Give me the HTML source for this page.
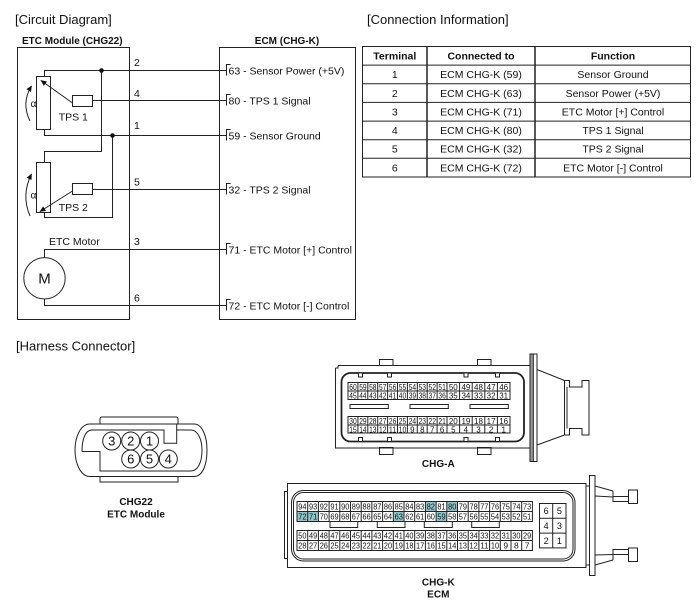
<!DOCTYPE html>
<html><head><meta charset="utf-8"><style>
html,body{margin:0;padding:0;background:#fff;}
svg{display:block;font-family:"Liberation Sans",Arial,sans-serif;}
</style></head><body>
<svg width="700" height="608" viewBox="0 0 700 608" xmlns="http://www.w3.org/2000/svg">
<defs>
<marker id="ah" viewBox="0 0 10 10" refX="9" refY="5" markerWidth="7" markerHeight="6" orient="auto" markerUnits="userSpaceOnUse"><path d="M0,0.5 L10,5 L0,9.5 Z" fill="#111"/></marker>
</defs>
<rect width="700" height="608" fill="#fff"/>

<!-- Titles -->
<g font-size="13" fill="#111">
<text x="15" y="24">[Circuit Diagram]</text>
<text x="367" y="24">[Connection Information]</text>
<text x="16" y="350.5">[Harness Connector]</text>
</g>
<g font-size="10" font-weight="bold" fill="#111">
<text x="22" y="44">ETC Module (CHG22)</text>
<text x="287" y="44" text-anchor="middle">ECM (CHG-K)</text>
</g>

<!-- Boxes -->
<g fill="none" stroke="#222" stroke-width="1">
<rect x="17.5" y="47.5" width="112" height="272"/>
<rect x="219.5" y="47.5" width="136" height="272"/>
<!-- pots -->
<rect x="36.5" y="76.5" width="14" height="53"/>
<rect x="36.5" y="162.5" width="14" height="50"/>
<!-- TPS boxes -->
<rect x="72.5" y="95.5" width="20" height="11"/>
<rect x="72.5" y="183.5" width="20" height="11"/>
<!-- wires -->
<path d="M44.5,76.5 V70.5 H226.5"/>
<path d="M101.5,70.5 V151.5 H44.5 V162.5"/>
<path d="M44.5,129.5 V135.5 H226.5"/>
<path d="M112.5,135.5 V217.5 H44.5 V212.5"/>
<path d="M92.5,100.5 H226.5"/>
<path d="M92.5,189.5 H226.5"/>
<path d="M44.5,257.5 V249.5 H226.5"/>
<path d="M44.5,299 V305.5 H226.5"/>
<circle cx="44.5" cy="278.3" r="20.7"/>
<!-- pin brackets -->
<path d="M230.5,64.5 H226.5 V75.5"/>
<path d="M230.5,94.5 H226.5 V105.5"/>
<path d="M230.5,129.5 H226.5 V140.5"/>
<path d="M230.5,183.5 H226.5 V194.5"/>
<path d="M230.5,243.5 H226.5 V254.5"/>
<path d="M230.5,299.5 H226.5 V310.5"/>
<!-- arrows -->
<path d="M72.5,103 L41,80.5" marker-end="url(#ah)"/>
<path d="M72.5,191 L40,211.5" marker-end="url(#ah)"/>
<path d="M30,121 Q21,103 31.5,86" marker-end="url(#ah)"/>
<path d="M30,216 Q21,195 31.5,174" marker-end="url(#ah)"/>
</g>
<circle cx="101.5" cy="70.5" r="2.3" fill="#111"/>
<circle cx="112.5" cy="135.5" r="2.3" fill="#111"/>

<g font-size="10.5" fill="#111">
<text x="134" y="66">2</text>
<text x="134" y="97">4</text>
<text x="134" y="129">1</text>
<text x="134" y="185.5">5</text>
<text x="134" y="245">3</text>
<text x="134" y="301.5">6</text>
<text x="73.3" y="120.5" text-anchor="middle">TPS 1</text>
<text x="73.3" y="211" text-anchor="middle">TPS 2</text>
<text x="49" y="245">ETC Motor</text>
<text x="33.5" y="107" text-anchor="middle" font-size="10">α</text>
<text x="33.5" y="198.5" text-anchor="middle" font-size="10">α</text>
<text x="228.5" y="74.3">63 - Sensor Power (+5V)</text>
<text x="228.5" y="104.3">80 - TPS 1 Signal</text>
<text x="228.5" y="139.3">59 - Sensor Ground</text>
<text x="228.5" y="193.3">32 - TPS 2 Signal</text>
<text x="228.5" y="253.3">71 - ETC Motor [+] Control</text>
<text x="228.5" y="309.3">72 - ETC Motor [-] Control</text>
</g>
<text x="44.5" y="283.5" text-anchor="middle" font-size="15" fill="#111">M</text>

<!-- Table -->
<g fill="none" stroke="#222" stroke-width="1">
<rect x="362.5" y="46.5" width="328" height="130.5"/>
<path d="M362.5,65.1 H690.5 M362.5,83.8 H690.5 M362.5,102.4 H690.5 M362.5,121.1 H690.5 M362.5,139.7 H690.5 M362.5,158.3 H690.5"/>
<path d="M427,46.5 V177 M535,46.5 V177" stroke-width="1.5"/>
</g>
<g font-size="10.5" fill="#111" text-anchor="middle">
<g font-weight="bold">
<text x="394.8" y="59.5">Terminal</text>
<text x="481" y="59.5">Connected to</text>
<text x="613" y="59.5">Function</text>
</g>
<text x="394.8" y="78.2">1</text><text x="481" y="78.2">ECM CHG-K (59)</text><text x="613" y="78.2">Sensor Ground</text>
<text x="394.8" y="96.8">2</text><text x="481" y="96.8">ECM CHG-K (63)</text><text x="613" y="96.8">Sensor Power (+5V)</text>
<text x="394.8" y="115.4">3</text><text x="481" y="115.4">ECM CHG-K (71)</text><text x="613" y="115.4">ETC Motor [+] Control</text>
<text x="394.8" y="134.1">4</text><text x="481" y="134.1">ECM CHG-K (80)</text><text x="613" y="134.1">TPS 1 Signal</text>
<text x="394.8" y="152.7">5</text><text x="481" y="152.7">ECM CHG-K (32)</text><text x="613" y="152.7">TPS 2 Signal</text>
<text x="394.8" y="171.4">6</text><text x="481" y="171.4">ECM CHG-K (72)</text><text x="613" y="171.4">ETC Motor [-] Control</text>
</g>

<!-- CHG22 connector -->
<g fill="none" stroke="#222" stroke-width="1">
<path d="M100,424 V419 Q100,417 102,417 H176 Q178,417 178,419 V424"/>
<path d="M90,424 H194 C203,424 207,438 207,450 C207,464 203,476.5 194,476.5 H90 C80,476.5 75,462 75,450 C75,438 80,424 90,424 Z"/>
<path d="M100,476.5 V482 H178 V476.5"/>
<path d="M82,451.5 C82,440 85,430 92,430 H164 V443.3 H176.7 V424 M176.7,430 H191 C198,430 202,440 202,450 C202,462 198,471 191,471 H100 V451.5 H82"/>
<circle cx="111.7" cy="441" r="9"/>
<circle cx="130.7" cy="441" r="9"/>
<circle cx="149.5" cy="441" r="9"/>
<circle cx="130.7" cy="459" r="9"/>
<circle cx="149.5" cy="459" r="9"/>
<circle cx="168.3" cy="459" r="9"/>
</g>
<g font-size="13" fill="#111" text-anchor="middle">
<text x="111.7" y="445.7">3</text>
<text x="130.7" y="445.7">2</text>
<text x="149.5" y="445.7">1</text>
<text x="130.7" y="463.7">6</text>
<text x="149.5" y="463.7">5</text>
<text x="168.3" y="463.7">4</text>
</g>
<g font-size="10" font-weight="bold" fill="#111" text-anchor="middle">
<text x="136" y="505">CHG22</text>
<text x="136" y="517.5">ETC Module</text>
<text x="438.3" y="467">CHG-A</text>
<text x="438.3" y="585.5">CHG-K</text>
<text x="438.3" y="597.5">ECM</text>
</g>

<!-- CHG-A connector -->
<g fill="none" stroke="#222" stroke-width="1">
<rect x="379.5" y="359.5" width="13.5" height="6" fill="#fff"/>
<rect x="477.5" y="359.5" width="13.5" height="6" fill="#fff"/>
<rect x="379.5" y="447.5" width="13.5" height="7" fill="#fff"/>
<rect x="477.5" y="447.5" width="13.5" height="7" fill="#fff"/>
<path d="M338,365.5 H530 M335.5,368 V448 H530 M335.5,368 H338 V365.5"/>
<rect x="341.5" y="373" width="182.5" height="68.5" rx="9" stroke-width="1.8"/>
<rect x="358.5" y="373" width="4" height="4" fill="#fff"/>
<rect x="387.5" y="373" width="4" height="4" fill="#fff"/>
<rect x="464" y="373" width="4" height="4" fill="#fff"/>
<rect x="495.5" y="373" width="4" height="4" fill="#fff"/>
<rect x="358.5" y="437.5" width="4" height="4" fill="#fff"/>
<rect x="387.5" y="437.5" width="4" height="4" fill="#fff"/>
<rect x="464" y="437.5" width="4" height="4" fill="#fff"/>
<rect x="495.5" y="437.5" width="4" height="4" fill="#fff"/>
<rect x="530" y="354" width="7" height="107.5"/>
<rect x="530" y="354" width="3.3" height="107.5" fill="#999"/>
<path d="M537,369.5 L564.5,380.5 M537,445 L564.5,435"/>
<path d="M564.5,380.5 H569.5 V387 H582 V380.5 H589 V435 H582 V428.5 H569.5 V435 H564.5 Z M567,387 V428.5"/>
<rect x="350" y="404.5" width="38.3" height="4"/>
<rect x="410" y="404.5" width="38.3" height="4"/>
<rect x="470" y="404.5" width="38.3" height="4"/>
<rect x="348" y="382.5" width="162" height="17"/>
<rect x="348" y="416.5" width="162" height="16.5"/>
<path d="M348,391 H510 M348,425 H510"/>
<path d="M357.9,382.5V399.5M367.8,382.5V399.5M377.7,382.5V399.5M387.6,382.5V399.5M397.5,382.5V399.5M407.4,382.5V399.5M417.3,382.5V399.5M427.2,382.5V399.5M437.1,382.5V399.5M447,382.5V399.5M459.6,382.5V399.5M472.2,382.5V399.5M484.8,382.5V399.5M497.4,382.5V399.5"/>
<path d="M357.9,416.5V433M367.8,416.5V433M377.7,416.5V433M387.6,416.5V433M397.5,416.5V433M407.4,416.5V433M417.3,416.5V433M427.2,416.5V433M437.1,416.5V433M447,416.5V433M459.6,416.5V433M472.2,416.5V433M484.8,416.5V433M497.4,416.5V433"/>
</g>
<g font-size="8" fill="#111" text-anchor="middle">
<text x="353" y="389.8" textLength="7.4" lengthAdjust="spacingAndGlyphs">60</text>
<text x="362.9" y="389.8" textLength="7.4" lengthAdjust="spacingAndGlyphs">59</text>
<text x="372.8" y="389.8" textLength="7.4" lengthAdjust="spacingAndGlyphs">58</text>
<text x="382.7" y="389.8" textLength="7.4" lengthAdjust="spacingAndGlyphs">57</text>
<text x="392.6" y="389.8" textLength="7.4" lengthAdjust="spacingAndGlyphs">56</text>
<text x="402.5" y="389.8" textLength="7.4" lengthAdjust="spacingAndGlyphs">55</text>
<text x="412.4" y="389.8" textLength="7.4" lengthAdjust="spacingAndGlyphs">54</text>
<text x="422.3" y="389.8" textLength="7.4" lengthAdjust="spacingAndGlyphs">53</text>
<text x="432.2" y="389.8" textLength="7.4" lengthAdjust="spacingAndGlyphs">52</text>
<text x="442.1" y="389.8" textLength="7.4" lengthAdjust="spacingAndGlyphs">51</text>
<text x="453.3" y="389.8">50</text>
<text x="465.9" y="389.8">49</text>
<text x="478.5" y="389.8">48</text>
<text x="491.1" y="389.8">47</text>
<text x="503.7" y="389.8">46</text>
<text x="353" y="398.3" textLength="7.4" lengthAdjust="spacingAndGlyphs">45</text>
<text x="362.9" y="398.3" textLength="7.4" lengthAdjust="spacingAndGlyphs">44</text>
<text x="372.8" y="398.3" textLength="7.4" lengthAdjust="spacingAndGlyphs">43</text>
<text x="382.7" y="398.3" textLength="7.4" lengthAdjust="spacingAndGlyphs">42</text>
<text x="392.6" y="398.3" textLength="7.4" lengthAdjust="spacingAndGlyphs">41</text>
<text x="402.5" y="398.3" textLength="7.4" lengthAdjust="spacingAndGlyphs">40</text>
<text x="412.4" y="398.3" textLength="7.4" lengthAdjust="spacingAndGlyphs">39</text>
<text x="422.3" y="398.3" textLength="7.4" lengthAdjust="spacingAndGlyphs">38</text>
<text x="432.2" y="398.3" textLength="7.4" lengthAdjust="spacingAndGlyphs">37</text>
<text x="442.1" y="398.3" textLength="7.4" lengthAdjust="spacingAndGlyphs">36</text>
<text x="453.3" y="398.3">35</text>
<text x="465.9" y="398.3">34</text>
<text x="478.5" y="398.3">33</text>
<text x="491.1" y="398.3">32</text>
<text x="503.7" y="398.3">31</text>
<text x="353" y="423.8" textLength="7.4" lengthAdjust="spacingAndGlyphs">30</text>
<text x="362.9" y="423.8" textLength="7.4" lengthAdjust="spacingAndGlyphs">29</text>
<text x="372.8" y="423.8" textLength="7.4" lengthAdjust="spacingAndGlyphs">28</text>
<text x="382.7" y="423.8" textLength="7.4" lengthAdjust="spacingAndGlyphs">27</text>
<text x="392.6" y="423.8" textLength="7.4" lengthAdjust="spacingAndGlyphs">26</text>
<text x="402.5" y="423.8" textLength="7.4" lengthAdjust="spacingAndGlyphs">25</text>
<text x="412.4" y="423.8" textLength="7.4" lengthAdjust="spacingAndGlyphs">24</text>
<text x="422.3" y="423.8" textLength="7.4" lengthAdjust="spacingAndGlyphs">23</text>
<text x="432.2" y="423.8" textLength="7.4" lengthAdjust="spacingAndGlyphs">22</text>
<text x="442.1" y="423.8" textLength="7.4" lengthAdjust="spacingAndGlyphs">21</text>
<text x="453.3" y="423.8">20</text>
<text x="465.9" y="423.8">19</text>
<text x="478.5" y="423.8">18</text>
<text x="491.1" y="423.8">17</text>
<text x="503.7" y="423.8">16</text>
<text x="353" y="432.3" textLength="7.4" lengthAdjust="spacingAndGlyphs">15</text>
<text x="362.9" y="432.3" textLength="7.4" lengthAdjust="spacingAndGlyphs">14</text>
<text x="372.8" y="432.3" textLength="7.4" lengthAdjust="spacingAndGlyphs">13</text>
<text x="382.7" y="432.3" textLength="7.4" lengthAdjust="spacingAndGlyphs">12</text>
<text x="392.6" y="432.3" textLength="7.4" lengthAdjust="spacingAndGlyphs">11</text>
<text x="402.5" y="432.3" textLength="7.4" lengthAdjust="spacingAndGlyphs">10</text>
<text x="412.4" y="432.3">9</text>
<text x="422.3" y="432.3">8</text>
<text x="432.2" y="432.3">7</text>
<text x="442.1" y="432.3">6</text>
<text x="453.3" y="432.3">5</text>
<text x="465.9" y="432.3">4</text>
<text x="478.5" y="432.3">3</text>
<text x="491.1" y="432.3">2</text>
<text x="503.7" y="432.3">1</text>
</g>

<!-- CHG-K connector -->
<g fill="none" stroke="#222" stroke-width="1">
<rect x="287.5" y="483.5" width="298.5" height="84"/>
<path d="M287.5,491.5 H284.5 V558.5 H287.5"/>
<rect x="291.5" y="490.5" width="283.5" height="70.5" rx="12"/>
<rect x="293.5" y="492.5" width="279.5" height="66.5" rx="10"/>
<path d="M586,486 H589.5 M586,565 H589.5"/>
<rect x="589.5" y="475.5" width="5.5" height="100"/>
<path d="M595,486 L613,491 M595,496 L613,497 M595,565 L613,560 M595,555 L613,554.5"/>
<rect x="613" y="496.5" width="15.5" height="5"/>
<rect x="628.5" y="490" width="9" height="13.5"/>
<path d="M613,491 V496.5 M613,554.5 V560"/>
<rect x="613" y="549.5" width="15.5" height="5"/>
<rect x="628.5" y="548" width="9" height="13.5"/>
</g>
<g fill="#8ec6cb">
<rect x="425.4" y="501.5" width="10.7" height="10"/>
<rect x="446.8" y="501.5" width="10.7" height="10"/>
<rect x="297" y="511.5" width="21.4" height="10"/>
<rect x="393.3" y="511.5" width="10.7" height="10"/>
<rect x="436.1" y="511.5" width="10.7" height="10"/>
</g>
<g fill="none" stroke="#222" stroke-width="1">
<rect x="297" y="501.5" width="235.4" height="20"/>
<rect x="297" y="530.5" width="235.4" height="20"/>
<path d="M297,511.5 H532.4 M297,540.5 H532.4"/>
<path d="M307.7,501.5V521.5M318.4,501.5V521.5M329.1,501.5V521.5M339.8,501.5V521.5M350.5,501.5V521.5M361.2,501.5V521.5M371.9,501.5V521.5M382.6,501.5V521.5M393.3,501.5V521.5M404,501.5V521.5M414.7,501.5V521.5M425.4,501.5V521.5M436.1,501.5V521.5M446.8,501.5V521.5M457.5,501.5V521.5M468.2,501.5V521.5M478.9,501.5V521.5M489.6,501.5V521.5M500.3,501.5V521.5M511,501.5V521.5M521.7,501.5V521.5"/>
<path d="M307.7,530.5V550.5M318.4,530.5V550.5M329.1,530.5V550.5M339.8,530.5V550.5M350.5,530.5V550.5M361.2,530.5V550.5M371.9,530.5V550.5M382.6,530.5V550.5M393.3,530.5V550.5M404,530.5V550.5M414.7,530.5V550.5M425.4,530.5V550.5M436.1,530.5V550.5M446.8,530.5V550.5M457.5,530.5V550.5M468.2,530.5V550.5M478.9,530.5V550.5M489.6,530.5V550.5M500.3,530.5V550.5M511,530.5V550.5M521.7,530.5V550.5"/>
<rect x="330" y="521.5" width="27.7" height="6" fill="#fff"/>
<rect x="377.3" y="521.5" width="27.7" height="6" fill="#fff"/>
<rect x="424.3" y="521.5" width="28" height="6" fill="#fff"/>
<rect x="471.7" y="521.5" width="27.6" height="6" fill="#fff"/>
<rect x="539.5" y="503.5" width="26.5" height="44.4"/>
<path d="M552.7,503.5 V547.9 M539.5,518.3 H566 M539.5,533.1 H566"/>
</g>
<g font-size="8.5" fill="#111" text-anchor="middle">
<text x="302.4" y="509.5" textLength="8.2" lengthAdjust="spacingAndGlyphs">94</text>
<text x="313.1" y="509.5" textLength="8.2" lengthAdjust="spacingAndGlyphs">93</text>
<text x="323.8" y="509.5" textLength="8.2" lengthAdjust="spacingAndGlyphs">92</text>
<text x="334.5" y="509.5" textLength="8.2" lengthAdjust="spacingAndGlyphs">91</text>
<text x="345.2" y="509.5" textLength="8.2" lengthAdjust="spacingAndGlyphs">90</text>
<text x="355.9" y="509.5" textLength="8.2" lengthAdjust="spacingAndGlyphs">89</text>
<text x="366.6" y="509.5" textLength="8.2" lengthAdjust="spacingAndGlyphs">88</text>
<text x="377.3" y="509.5" textLength="8.2" lengthAdjust="spacingAndGlyphs">87</text>
<text x="388" y="509.5" textLength="8.2" lengthAdjust="spacingAndGlyphs">86</text>
<text x="398.7" y="509.5" textLength="8.2" lengthAdjust="spacingAndGlyphs">85</text>
<text x="409.4" y="509.5" textLength="8.2" lengthAdjust="spacingAndGlyphs">84</text>
<text x="420.1" y="509.5" textLength="8.2" lengthAdjust="spacingAndGlyphs">83</text>
<text x="430.8" y="509.5" textLength="8.2" lengthAdjust="spacingAndGlyphs">82</text>
<text x="441.5" y="509.5" textLength="8.2" lengthAdjust="spacingAndGlyphs">81</text>
<text x="452.2" y="509.5" textLength="8.2" lengthAdjust="spacingAndGlyphs">80</text>
<text x="462.9" y="509.5" textLength="8.2" lengthAdjust="spacingAndGlyphs">79</text>
<text x="473.6" y="509.5" textLength="8.2" lengthAdjust="spacingAndGlyphs">78</text>
<text x="484.3" y="509.5" textLength="8.2" lengthAdjust="spacingAndGlyphs">77</text>
<text x="495" y="509.5" textLength="8.2" lengthAdjust="spacingAndGlyphs">76</text>
<text x="505.7" y="509.5" textLength="8.2" lengthAdjust="spacingAndGlyphs">75</text>
<text x="516.4" y="509.5" textLength="8.2" lengthAdjust="spacingAndGlyphs">74</text>
<text x="527.1" y="509.5" textLength="8.2" lengthAdjust="spacingAndGlyphs">73</text>
<text x="302.4" y="519.5" textLength="8.2" lengthAdjust="spacingAndGlyphs">72</text>
<text x="313.1" y="519.5" textLength="8.2" lengthAdjust="spacingAndGlyphs">71</text>
<text x="323.8" y="519.5" textLength="8.2" lengthAdjust="spacingAndGlyphs">70</text>
<text x="334.5" y="519.5" textLength="8.2" lengthAdjust="spacingAndGlyphs">69</text>
<text x="345.2" y="519.5" textLength="8.2" lengthAdjust="spacingAndGlyphs">68</text>
<text x="355.9" y="519.5" textLength="8.2" lengthAdjust="spacingAndGlyphs">67</text>
<text x="366.6" y="519.5" textLength="8.2" lengthAdjust="spacingAndGlyphs">66</text>
<text x="377.3" y="519.5" textLength="8.2" lengthAdjust="spacingAndGlyphs">65</text>
<text x="388" y="519.5" textLength="8.2" lengthAdjust="spacingAndGlyphs">64</text>
<text x="398.7" y="519.5" textLength="8.2" lengthAdjust="spacingAndGlyphs">63</text>
<text x="409.4" y="519.5" textLength="8.2" lengthAdjust="spacingAndGlyphs">62</text>
<text x="420.1" y="519.5" textLength="8.2" lengthAdjust="spacingAndGlyphs">61</text>
<text x="430.8" y="519.5" textLength="8.2" lengthAdjust="spacingAndGlyphs">60</text>
<text x="441.5" y="519.5" textLength="8.2" lengthAdjust="spacingAndGlyphs">59</text>
<text x="452.2" y="519.5" textLength="8.2" lengthAdjust="spacingAndGlyphs">58</text>
<text x="462.9" y="519.5" textLength="8.2" lengthAdjust="spacingAndGlyphs">57</text>
<text x="473.6" y="519.5" textLength="8.2" lengthAdjust="spacingAndGlyphs">56</text>
<text x="484.3" y="519.5" textLength="8.2" lengthAdjust="spacingAndGlyphs">55</text>
<text x="495" y="519.5" textLength="8.2" lengthAdjust="spacingAndGlyphs">54</text>
<text x="505.7" y="519.5" textLength="8.2" lengthAdjust="spacingAndGlyphs">53</text>
<text x="516.4" y="519.5" textLength="8.2" lengthAdjust="spacingAndGlyphs">52</text>
<text x="527.1" y="519.5" textLength="8.2" lengthAdjust="spacingAndGlyphs">51</text>
<text x="302.4" y="538.5" textLength="8.2" lengthAdjust="spacingAndGlyphs">50</text>
<text x="313.1" y="538.5" textLength="8.2" lengthAdjust="spacingAndGlyphs">49</text>
<text x="323.8" y="538.5" textLength="8.2" lengthAdjust="spacingAndGlyphs">48</text>
<text x="334.5" y="538.5" textLength="8.2" lengthAdjust="spacingAndGlyphs">47</text>
<text x="345.2" y="538.5" textLength="8.2" lengthAdjust="spacingAndGlyphs">46</text>
<text x="355.9" y="538.5" textLength="8.2" lengthAdjust="spacingAndGlyphs">45</text>
<text x="366.6" y="538.5" textLength="8.2" lengthAdjust="spacingAndGlyphs">44</text>
<text x="377.3" y="538.5" textLength="8.2" lengthAdjust="spacingAndGlyphs">43</text>
<text x="388" y="538.5" textLength="8.2" lengthAdjust="spacingAndGlyphs">42</text>
<text x="398.7" y="538.5" textLength="8.2" lengthAdjust="spacingAndGlyphs">41</text>
<text x="409.4" y="538.5" textLength="8.2" lengthAdjust="spacingAndGlyphs">40</text>
<text x="420.1" y="538.5" textLength="8.2" lengthAdjust="spacingAndGlyphs">39</text>
<text x="430.8" y="538.5" textLength="8.2" lengthAdjust="spacingAndGlyphs">38</text>
<text x="441.5" y="538.5" textLength="8.2" lengthAdjust="spacingAndGlyphs">37</text>
<text x="452.2" y="538.5" textLength="8.2" lengthAdjust="spacingAndGlyphs">36</text>
<text x="462.9" y="538.5" textLength="8.2" lengthAdjust="spacingAndGlyphs">35</text>
<text x="473.6" y="538.5" textLength="8.2" lengthAdjust="spacingAndGlyphs">34</text>
<text x="484.3" y="538.5" textLength="8.2" lengthAdjust="spacingAndGlyphs">33</text>
<text x="495" y="538.5" textLength="8.2" lengthAdjust="spacingAndGlyphs">32</text>
<text x="505.7" y="538.5" textLength="8.2" lengthAdjust="spacingAndGlyphs">31</text>
<text x="516.4" y="538.5" textLength="8.2" lengthAdjust="spacingAndGlyphs">30</text>
<text x="527.1" y="538.5" textLength="8.2" lengthAdjust="spacingAndGlyphs">29</text>
<text x="302.4" y="548.5" textLength="8.2" lengthAdjust="spacingAndGlyphs">28</text>
<text x="313.1" y="548.5" textLength="8.2" lengthAdjust="spacingAndGlyphs">27</text>
<text x="323.8" y="548.5" textLength="8.2" lengthAdjust="spacingAndGlyphs">26</text>
<text x="334.5" y="548.5" textLength="8.2" lengthAdjust="spacingAndGlyphs">25</text>
<text x="345.2" y="548.5" textLength="8.2" lengthAdjust="spacingAndGlyphs">24</text>
<text x="355.9" y="548.5" textLength="8.2" lengthAdjust="spacingAndGlyphs">23</text>
<text x="366.6" y="548.5" textLength="8.2" lengthAdjust="spacingAndGlyphs">22</text>
<text x="377.3" y="548.5" textLength="8.2" lengthAdjust="spacingAndGlyphs">21</text>
<text x="388" y="548.5" textLength="8.2" lengthAdjust="spacingAndGlyphs">20</text>
<text x="398.7" y="548.5" textLength="8.2" lengthAdjust="spacingAndGlyphs">19</text>
<text x="409.4" y="548.5" textLength="8.2" lengthAdjust="spacingAndGlyphs">18</text>
<text x="420.1" y="548.5" textLength="8.2" lengthAdjust="spacingAndGlyphs">17</text>
<text x="430.8" y="548.5" textLength="8.2" lengthAdjust="spacingAndGlyphs">16</text>
<text x="441.5" y="548.5" textLength="8.2" lengthAdjust="spacingAndGlyphs">15</text>
<text x="452.2" y="548.5" textLength="8.2" lengthAdjust="spacingAndGlyphs">14</text>
<text x="462.9" y="548.5" textLength="8.2" lengthAdjust="spacingAndGlyphs">13</text>
<text x="473.6" y="548.5" textLength="8.2" lengthAdjust="spacingAndGlyphs">12</text>
<text x="484.3" y="548.5" textLength="8.2" lengthAdjust="spacingAndGlyphs">11</text>
<text x="495" y="548.5" textLength="8.2" lengthAdjust="spacingAndGlyphs">10</text>
<text x="505.7" y="548.5">9</text>
<text x="516.4" y="548.5">8</text>
<text x="527.1" y="548.5">7</text>
<text x="546.1" y="514.2" font-size="9">6</text>
<text x="559.4" y="514.2" font-size="9">5</text>
<text x="546.1" y="529" font-size="9">4</text>
<text x="559.4" y="529" font-size="9">3</text>
<text x="546.1" y="543.8" font-size="9">2</text>
<text x="559.4" y="543.8" font-size="9">1</text>
</g>
</svg>
</body></html>
